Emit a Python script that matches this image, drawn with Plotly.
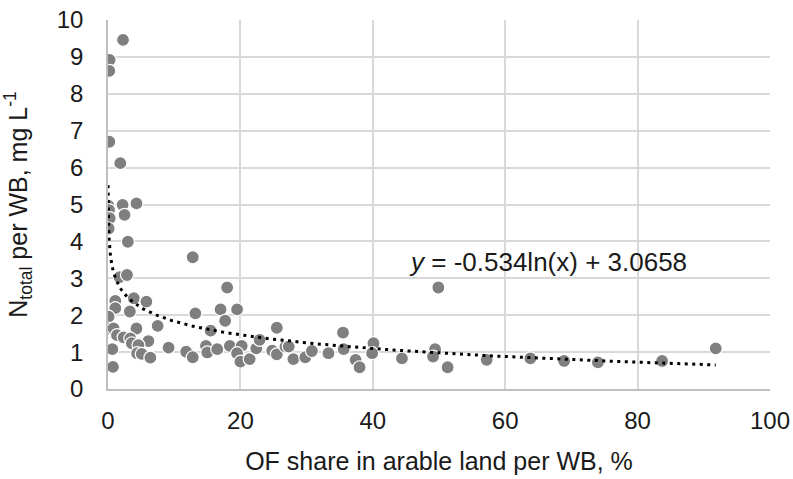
import numpy as np
import plotly.graph_objects as go

# OF share in arable land per WB, % (x) and N total per WB, mg/L (y)
x_share = [2.27, 0.25, 0.2, 0.2, 1.86, 0.05, 2.2, 4.3, 0.15, 0.25, 2.5, 0.1, 3.0, 12.8,
           1.75, 2.87, 1.1, 3.9, 5.8, 1.1, 3.3, 0.1, 0.01, 0.85, 4.3, 7.5, 1.36, 2.36,
           3.37, 6.1, 3.6, 4.6, 9.15, 0.65, 4.4, 5.1, 6.4, 11.8, 0.75,
           18.0, 13.2, 17.0, 19.5, 17.7, 25.5, 15.5, 12.8, 14.8, 15.0, 16.5, 18.4, 20.2,
           19.5, 20.0, 21.4, 22.4, 22.9, 24.8, 25.5, 26.8, 27.3, 28.0, 29.8, 30.8, 33.3,
           35.5, 35.6, 37.4, 38.0, 40.1, 39.9, 44.4, 49.9, 49.4, 49.1, 51.3, 57.2, 63.8,
           68.9, 74.0, 83.7, 91.8]
y_ntotal = [9.46, 8.92, 8.62, 6.70, 6.12, 4.97, 4.99, 5.03, 4.85, 4.63, 4.72, 4.35, 3.99, 3.57,
            3.03, 3.09, 2.39, 2.46, 2.37, 2.19, 2.10, 1.96, 1.64, 1.64, 1.64, 1.71, 1.46, 1.40,
            1.37, 1.30, 1.24, 1.19, 1.12, 1.08, 0.97, 0.95, 0.85, 1.01, 0.60,
            2.75, 2.05, 2.16, 2.16, 1.85, 1.66, 1.58, 0.86, 1.17, 0.99, 1.08, 1.17, 1.17,
            0.97, 0.74, 0.81, 1.10, 1.33, 1.04, 0.94, 1.15, 1.15, 0.81, 0.86, 1.03, 0.97,
            1.53, 1.08, 0.79, 0.59, 1.24, 0.97, 0.83, 2.75, 1.08, 0.88, 0.59, 0.79, 0.83,
            0.76, 0.72, 0.76, 1.10]

# logarithmic trendline coefficients
trend_a = -0.534
trend_b = 3.0658
trend_label = "<i>y</i> = -0.534ln(x) + 3.0658"

x_ticks = [0, 20, 40, 60, 80, 100]
y_ticks = list(range(0, 11))

tx = np.geomspace(min(x_share), max(x_share), 400)
ty = trend_a * np.log(tx) + trend_b

FONT = "Liberation Sans, Arial, sans-serif"
TXT = "#1a1a1a"

fig = go.Figure()
fig.add_trace(go.Scatter(
    x=x_share, y=y_ntotal, mode="markers",
    marker=dict(size=13, color="#7f7f7f", line=dict(color="white", width=1.2)),
    showlegend=False, hoverinfo="x+y"))
fig.add_trace(go.Scatter(
    x=tx, y=ty, mode="lines",
    line=dict(color="black", width=3, dash="3px,4.5px"),
    showlegend=False, hoverinfo="skip"))

fig.add_annotation(x=45.2, y=3.455, xref="x", yref="y", text=trend_label,
                   showarrow=False, xanchor="left", yanchor="middle",
                   font=dict(family=FONT, size=26, color=TXT))

fig.update_layout(
    width=793, height=479,
    margin=dict(l=108, r=23, t=20, b=90),
    paper_bgcolor="white", plot_bgcolor="white",
    font=dict(family=FONT, size=24, color=TXT),
    xaxis=dict(range=[0, 100], tickvals=x_ticks, showgrid=True, gridcolor="#d9d9d9",
               gridwidth=1.5, showline=True, linecolor="#bfbfbf", linewidth=1.5,
               zeroline=False, ticks="", ticklabelstandoff=9, automargin=False,
               tickfont=dict(size=24, color=TXT),
               title=dict(text="OF share in arable land per WB, %", standoff=20,
                          font=dict(size=25, color=TXT))),
    yaxis=dict(range=[0, 10], tickvals=y_ticks, showgrid=True, gridcolor="#d9d9d9",
               gridwidth=1.5, showline=True, linecolor="#bfbfbf", linewidth=1.5,
               zeroline=False, ticks="", ticklabelstandoff=18, automargin=False,
               tickfont=dict(size=24, color=TXT),
               title=dict(text="N<sub>total</sub> per WB, mg L<sup>-1</sup>", standoff=29,
                          font=dict(size=25, color=TXT))),
)

fig.write_html("out.html", config={"displayModeBar": False},
               post_script="document.body.style.margin='0px';document.body.style.overflow='hidden';")
